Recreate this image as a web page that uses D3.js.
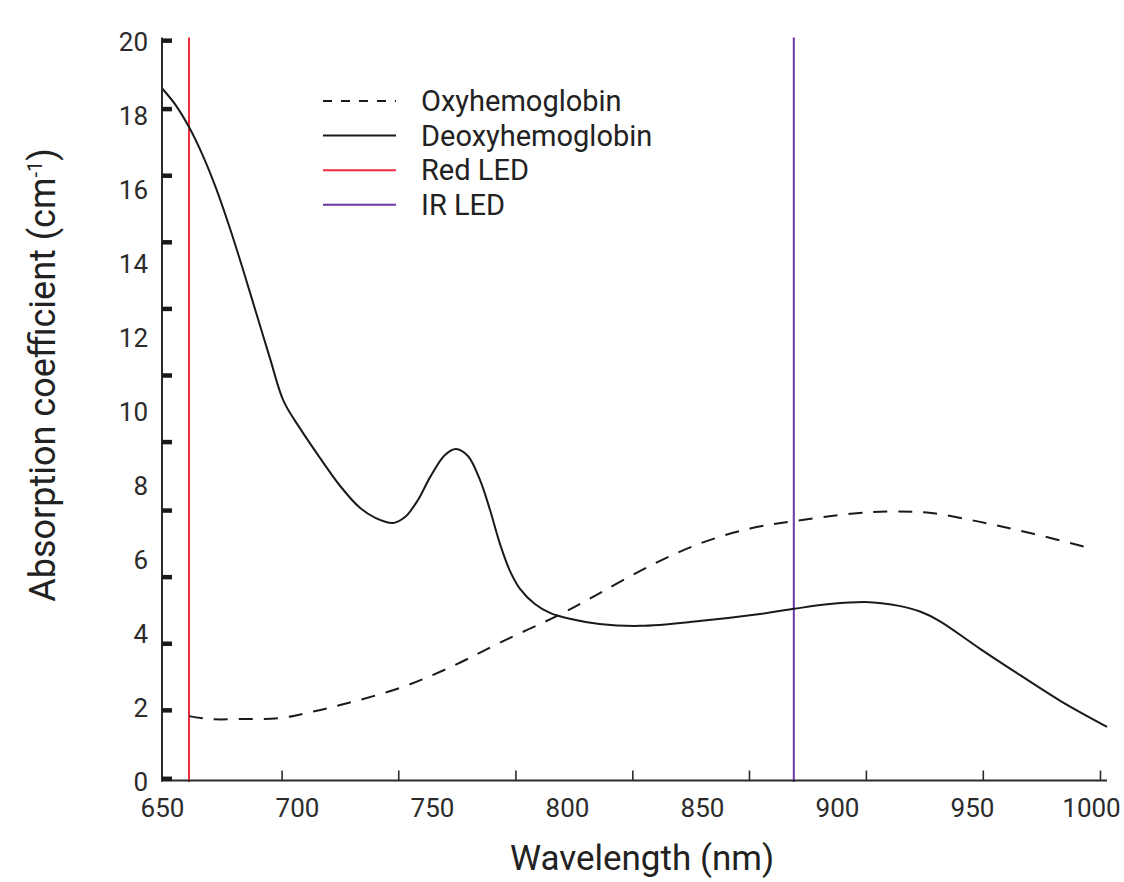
<!DOCTYPE html>
<html lang="en">

<head>
    <meta charset="UTF-8">
    <title>Hemoglobin absorption spectra</title>
    <script src="https://d3js.org/d3.v7.min.js"></script>
    <style>
        body,
        html {
            margin: 0;
            padding: 0;
            background: #fff;
        }

        svg {
            display: block;
            font-family: Roboto, "Noto Sans", sans-serif;
        }
    </style>
</head>

<body>
    <script>
        // Deoxyhemoglobin (solid)
        const deoxyNm = [650, 655, 660, 665, 670, 675, 680, 685, 690, 695, 701, 708.5, 716, 723.3, 729, 735.6, 740, 744.8,
            749.3, 754.8, 758.9, 763.3, 767.8, 771.5, 775.2, 778.9, 782.6, 788.1, 793.7, 801, 812, 827, 849, 871.5, 884,
            897.4, 912, 923, 931, 938, 953, 968, 983, 1000];
        const deoxyVal = [18.75, 18.3, 17.7, 16.95, 16.05, 15.0, 13.85, 12.65, 11.45, 10.3, 9.57, 8.76, 8.0, 7.41, 7.14, 7.0,
            7.16, 7.62, 8.24, 8.84, 9.0, 8.81, 8.16, 7.35, 6.43, 5.7, 5.22, 4.81, 4.57, 4.41, 4.27, 4.22, 4.35, 4.54, 4.68,
            4.81, 4.86, 4.76, 4.6, 4.35, 3.6, 2.88, 2.18, 1.49];

        // Oxyhemoglobin (dashed)
        const oxyNm = [660, 668, 679, 694, 705, 716, 738, 756.7, 775, 798, 812, 830.7, 849, 867.8, 884, 905, 920, 934.8, 953, 971.5, 993.7];
        const oxyVal = [1.78, 1.7, 1.7, 1.73, 1.89, 2.08, 2.54, 3.1, 3.76, 4.55, 5.1, 5.84, 6.44, 6.85, 7.05, 7.25, 7.31, 7.27, 7.03, 6.73, 6.32];

        // LED wavelengths
        const redLed = 660;
        const irLed = 884;

        // axis labels and the (offset) tick marks as drawn in the original
        const xLabels = [650, 700, 750, 800, 850, 900, 950, 1000];
        const xTickMarks = [694.3, 737.5, 780.9, 824.2, 867.4, 910.7, 954, 997.4];
        const yLabels = [0, 2, 4, 6, 8, 10, 12, 14, 16, 18, 20];
        const yTickMarks = [20.05, 18.2, 16.4, 14.6, 12.8, 11, 9.2, 7.35, 5.55, 3.75, 1.95, 0.1];

        const legendItems = [
            { name: "Oxyhemoglobin", color: "#1a1a1a", dash: "9,9" },
            { name: "Deoxyhemoglobin", color: "#1a1a1a", dash: null },
            { name: "Red LED", color: "#ef2b3c", dash: null },
            { name: "IR LED", color: "#6b37a6", dash: null }
        ];

        const width = 1124;
        const height = 882;

        const svg = d3.select("body")
            .append("svg")
            .attr("width", width)
            .attr("height", height);

        const x = d3.scaleLinear().domain([650, 1000]).range([162, 1107]);
        const y = d3.scaleLinear().domain([0, 20]).range([782, 42]);

        const line = d3.line()
            .x(d => x(d[0]))
            .y(d => y(d[1]))
            .curve(d3.curveCatmullRom.alpha(0.5));

        // LED marker lines
        [[redLed, "#ef2b3c"], [irLed, "#6b37a6"]].forEach(([nm, col]) => {
            svg.append("line")
                .attr("x1", x(nm)).attr("x2", x(nm))
                .attr("y1", y(20.12)).attr("y2", y(0))
                .attr("stroke", col)
                .attr("stroke-width", 2);
        });

        // curves
        svg.append("path")
            .datum(d3.zip(deoxyNm, deoxyVal))
            .attr("d", line)
            .attr("fill", "none")
            .attr("stroke", "#1a1a1a")
            .attr("stroke-width", 2);

        svg.append("path")
            .datum(d3.zip(oxyNm, oxyVal))
            .attr("d", line)
            .attr("fill", "none")
            .attr("stroke", "#1a1a1a")
            .attr("stroke-width", 2)
            .attr("stroke-dasharray", "14,11");

        // axis lines
        svg.append("line")
            .attr("x1", x(650)).attr("x2", x(650))
            .attr("y1", y(20.12)).attr("y2", y(0) - 0.5)
            .attr("stroke", "#2b2b2b").attr("stroke-width", 2);
        svg.append("line")
            .attr("x1", x(650) - 1).attr("x2", x(1000))
            .attr("y1", y(0) - 1.5).attr("y2", y(0) - 1.5)
            .attr("stroke", "#2b2b2b").attr("stroke-width", 2);

        // x tick marks (pointing up, thin)
        const xMarks = svg.append("g")
            .attr("transform", `translate(0,${y(0) - 1.5})`)
            .call(d3.axisTop(x).tickValues(xTickMarks).tickSize(10).tickFormat(""));
        xMarks.select(".domain").remove();
        xMarks.selectAll("line").attr("stroke", "#2b2b2b").attr("stroke-width", 1.6);

        // x labels
        const xAxis = svg.append("g")
            .attr("transform", `translate(0,${y(0) - 1.5})`)
            .call(d3.axisBottom(x).tickValues(xLabels).tickSize(0).tickPadding(18).tickFormat(d3.format("d")));
        xAxis.select(".domain").remove();
        xAxis.selectAll("text")
            .attr("font-size", 26)
            .attr("font-family", "Roboto, sans-serif")
            .attr("fill", "#2b2b2b")
            .attr("dx", d => d === 1000 ? -16 : 0);

        // y tick marks (pointing right, thick)
        const yMarks = svg.append("g")
            .attr("transform", `translate(${x(650)},0)`)
            .call(d3.axisRight(y).tickValues(yTickMarks).tickSize(10).tickFormat(""));
        yMarks.select(".domain").remove();
        yMarks.selectAll("line").attr("stroke", "#1a1a1a").attr("stroke-width", 4.5);

        // y labels
        const yAxis = svg.append("g")
            .attr("transform", `translate(${x(650) + 1},0)`)
            .call(d3.axisLeft(y).tickValues(yLabels).tickSize(0).tickPadding(15));
        yAxis.select(".domain").remove();
        yAxis.selectAll("text")
            .attr("font-size", 26)
            .attr("font-family", "Roboto, sans-serif")
            .attr("fill", "#2b2b2b");

        // axis titles
        svg.append("text")
            .attr("x", 642)
            .attr("y", 870)
            .attr("text-anchor", "middle")
            .attr("font-size", 35)
            .attr("fill", "#222")
            .text("Wavelength (nm)");

        const yTitle = svg.append("text")
            .attr("transform", "translate(55,375) rotate(-90)")
            .attr("text-anchor", "middle")
            .attr("font-size", 36)
            .attr("fill", "#222");
        yTitle.append("tspan").text("Absorption coefficient (cm");
        yTitle.append("tspan").attr("font-size", 20).attr("dy", -13).text("-1");
        yTitle.append("tspan").attr("dy", 13).text(")");

        // legend
        const legend = svg.append("g").attr("transform", "translate(323,101)");
        const rows = legend.selectAll("g")
            .data(legendItems)
            .enter()
            .append("g")
            .attr("transform", (d, i) => `translate(0,${i * 34.6})`);
        rows.append("line")
            .attr("x1", 0).attr("x2", 73)
            .attr("stroke", d => d.color)
            .attr("stroke-width", 2)
            .attr("stroke-dasharray", d => d.dash);
        rows.append("text")
            .attr("x", 98)
            .attr("dy", "0.35em")
            .attr("font-size", 29)
            .attr("fill", "#222")
            .text(d => d.name);
    </script>
</body>

</html>
